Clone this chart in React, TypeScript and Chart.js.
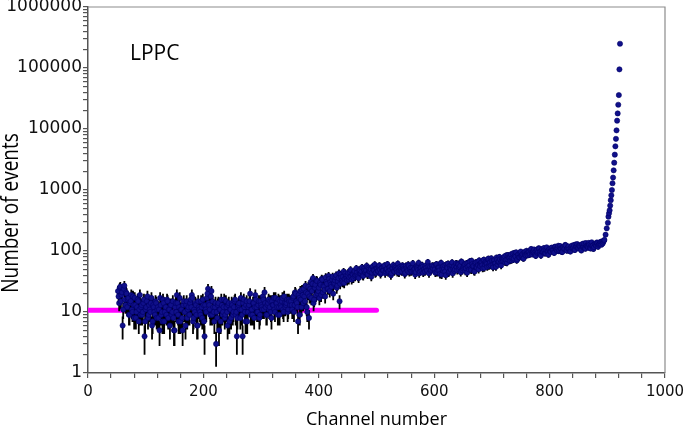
import React, { useEffect, useRef } from "react";
import { Chart, registerables } from "chart.js";

Chart.register(...registerables);

// ---------- data ----------
const xTickLabels = [0, 200, 400, 600, 800, 1000];
const yTickLabels = [1, 10, 100, 1000, 10000, 100000, 1000000];

// flat low region, even channels 52..350
const flatEvenStart = 52;
const flatEvenCounts = [
  22, 14, 26, 19, 6, 24, 16, 21, 12, 17, 9, 15, 11, 18, 8, 13, 10, 16, 7, 19,
  12, 9, 14, 4, 11, 15, 8, 13, 10, 17, 7, 12, 9, 14, 11, 8, 5, 13, 10, 16,
  7, 12, 9, 15, 11, 6, 13, 10, 8, 5, 14, 19, 9, 12, 7, 11, 5, 15, 10, 13,
  8, 12, 9, 16, 19, 7, 11, 14, 9, 6, 12, 10, 15, 8, 13, 4, 11, 17, 24, 13,
  9, 22, 15, 10, 12, 3, 8, 14, 11, 7, 13, 10, 16, 9, 12, 6, 14, 11, 8, 13,
  10, 15, 9, 4, 12, 14, 8, 11, 4, 16, 10, 13, 7, 12, 15, 9, 11, 14, 8, 19,
  12, 10, 15, 9, 13, 11, 16, 21, 12, 9, 14, 11, 15, 8, 13, 17, 10, 14, 12, 16,
  9, 13, 15, 11, 18, 12, 14, 10, 16, 13,
];
// flat low region, odd channels 53..349
const flatOddStart = 53;
const flatOddCounts = [
  18, 25, 15, 21, 11, 27, 13, 20, 16, 9, 14, 19, 10, 13, 17, 8, 12, 15, 11, 9,
  13, 10, 16, 7, 12, 18, 9, 11, 14, 6, 13, 10, 15, 8, 12, 11, 17, 9, 7, 14,
  10, 12, 16, 8, 11, 13, 9, 15, 5, 12, 10, 14, 7, 17, 11, 8, 13, 10, 6, 15,
  11, 9, 14, 12, 17, 8, 10, 13, 6, 15, 11, 9, 12, 16, 7, 13, 10, 20, 14, 11,
  18, 9, 12, 7, 14, 10, 13, 5, 11, 16, 9, 12, 8, 15, 10, 13, 7, 11, 14, 9,
  12, 16, 10, 8, 13, 11, 17, 9, 14, 12, 7, 15, 10, 13, 20, 11, 9, 14, 12, 16,
  10, 13, 8, 15, 12, 18, 11, 14, 9, 13, 16, 12, 10, 15, 13, 11, 17, 14, 9, 12,
  15, 12, 17, 10, 14, 13, 16, 11, 15,
];

// rising region, even channels 352..598
const riseEvenStart = 352;
const riseEvenCounts = [
  15, 11, 18, 13, 20, 14, 7, 17, 22, 12, 19, 24, 15, 21, 10, 26, 18, 31, 22, 36,
  16, 28, 33, 20, 25, 30, 19, 34, 27, 23, 37, 29, 24, 35, 31, 26, 38, 29, 33, 40,
  27, 36, 15, 41, 33, 38, 30, 43, 36, 40, 34, 45, 38, 42, 36, 47, 40, 44, 38, 49,
  42, 46, 40, 51, 44, 48, 42, 53, 46, 50, 44, 56, 48, 43, 52, 47, 55, 49, 44, 53,
  48, 58, 46, 51, 45, 54, 49, 43, 52, 47, 56, 50, 45, 53, 48, 51, 46, 55, 49, 44,
  52, 47, 57, 50, 46, 53, 48, 51, 45, 54, 49, 43, 52, 47, 55, 50, 46, 53, 48, 56,
  50, 47, 54, 51,
];
// rising region, odd channels 353..597
const riseOddStart = 353;
const riseOddCounts = [
  13, 17, 10, 21, 15, 12, 19, 9, 16, 23, 14, 18, 27, 12, 20, 8, 24, 17, 29, 14,
  25, 19, 32, 22, 17, 28, 35, 21, 26, 18, 31, 24, 39, 22, 28, 34, 20, 30, 37, 25,
  32, 43, 29, 37, 31, 46, 35, 39, 33, 44, 37, 49, 34, 41, 45, 38, 52, 40, 36, 47,
  43, 54, 39, 48, 45, 57, 41, 50, 46, 38, 55, 49, 60, 44, 51, 47, 58, 42, 53, 48,
  56, 43, 50, 61, 47, 54, 40, 52, 59, 46, 53, 49, 62, 44, 55, 48, 58, 51, 42, 57,
  49, 60, 45, 53, 47, 63, 50, 41, 56, 52, 64, 46, 54, 59, 44, 51, 57, 48, 66, 43,
  55, 49, 58,
];

// slowly increasing region, even channels 600..888
const slopeEvenStart = 600;
const slopeEvenCounts = [
  57, 44, 61, 49, 53, 42, 64, 51, 47, 58, 40, 55, 62, 46, 52, 59, 43, 56, 50, 63,
  48, 60, 54, 45, 66, 52, 58, 47, 63, 55, 50, 68, 49, 61, 57, 46, 65, 53, 59, 70,
  56, 66, 52, 72, 60, 64, 55, 75, 62, 58, 69, 54, 71, 63, 78, 60, 67, 73, 58, 76,
  68, 82, 71, 64, 86, 77, 80, 70, 91, 75, 84, 95, 73, 88, 79, 98, 83, 76, 93, 87,
  101, 85, 96, 90, 108, 88, 99, 94, 83, 105, 97, 110, 89, 102, 95, 112, 91, 104, 99, 87,
  109, 97, 114, 102, 93, 118, 105, 111, 99, 121, 106, 96, 116, 108, 124, 101, 113, 107, 98, 119,
  110, 125, 104, 117, 130, 112, 121, 106, 127, 115, 133, 109, 122, 118, 136, 113, 126, 120, 108, 131,
  124, 138, 117, 129, 141,
];
// slowly increasing region, odd channels 601..887
const slopeOddStart = 601;
const slopeOddCounts = [
  50, 59, 45, 54, 48, 62, 41, 56, 52, 46, 60, 53, 44, 57, 49, 65, 51, 47, 58, 54,
  62, 50, 57, 67, 48, 55, 61, 52, 44, 64, 58, 51, 69, 56, 47, 62, 54, 66, 50, 60,
  64, 58, 70, 53, 67, 61, 73, 57, 65, 76, 59, 68, 62, 55, 72, 66, 80, 63, 69, 74,
  77, 65, 85, 73, 79, 69, 88, 76, 72, 93, 81, 70, 86, 78, 94, 82, 89, 75, 97, 84,
  90, 98, 86, 103, 92, 95, 106, 87, 100, 93, 111, 96, 84, 107, 98, 103, 92, 115, 100, 105,
  98, 112, 104, 95, 117, 108, 101, 122, 103, 110, 97, 115, 109, 126, 104, 112, 119, 100, 114, 123,
  114, 105, 128, 119, 111, 124, 116, 102, 131, 118, 112, 135, 120, 114, 127, 110, 139, 123, 116, 129,
  121, 134, 126, 132,
];

// edge / peak region
const edgeChannels = [
  889, 890, 891, 892, 893, 894, 895, 897, 899, 901, 902, 903, 904, 905, 906, 907,
  908, 909, 910, 911, 912, 913, 914, 915, 916, 917, 918, 919, 920, 921, 922,
];
const edgeCounts = [
  138, 127, 144, 133, 141, 148, 152, 185, 235, 290, 365, 415, 465, 555, 680, 820,
  1000, 1290, 1600, 2100, 2800, 3800, 5200, 6900, 9500, 13700, 18000, 25000, 36000, 95000,
  250000,
];

// magenta reference level
const thresholdChannels = [0, 500];
const thresholdLevel = 10.7;

type Pt = { x: number; y: number };

const fromRun = (start: number, counts: number[]): Pt[] =>
  counts.map((c, i) => ({ x: start + 2 * i, y: c }));

const points: Pt[] = [
  ...fromRun(flatEvenStart, flatEvenCounts),
  ...fromRun(flatOddStart, flatOddCounts),
  ...fromRun(riseEvenStart, riseEvenCounts),
  ...fromRun(riseOddStart, riseOddCounts),
  ...fromRun(slopeEvenStart, slopeEvenCounts),
  ...fromRun(slopeOddStart, slopeOddCounts),
  ...edgeCounts.map((c, i) => ({ x: edgeChannels[i], y: c })),
].sort((a, b) => a.x - b.x);

const yTickValues: number[] = [];
yTickLabels.forEach((d, i) => {
  if (i === yTickLabels.length - 1) {
    yTickValues.push(d);
  } else {
    for (let m = 1; m <= 9; m++) yTickValues.push(d * m);
  }
});

const W = 685;
const H = 427;

const errorBarPlugin = {
  id: "errorBars",
  beforeDatasetDraw(chart: any, args: any) {
    if (args.index !== 1) return;
    const { ctx, chartArea, scales } = chart;
    const xs = scales.x;
    const ys = scales.y;
    const data = chart.data.datasets[1].data as Pt[];
    ctx.save();
    ctx.beginPath();
    ctx.rect(chartArea.left, chartArea.top, chartArea.width, chartArea.height);
    ctx.clip();
    ctx.strokeStyle = "#000000";
    ctx.lineWidth = 1.8;
    ctx.beginPath();
    for (const p of data) {
      const e = Math.sqrt(p.y);
      const px = xs.getPixelForValue(p.x);
      const lo = Math.max(p.y - e, 0.3);
      ctx.moveTo(px, ys.getPixelForValue(p.y + e));
      ctx.lineTo(px, ys.getPixelForValue(lo));
    }
    ctx.stroke();
    ctx.restore();
  },
};

const decorPlugin = {
  id: "decor",
  afterDraw(chart: any) {
    const { ctx, chartArea } = chart;
    ctx.save();
    ctx.strokeStyle = "#8c8c8c";
    ctx.lineWidth = 1.2;
    ctx.beginPath();
    ctx.moveTo(chartArea.left, chartArea.top);
    ctx.lineTo(chartArea.right, chartArea.top);
    ctx.lineTo(chartArea.right, chartArea.bottom);
    ctx.stroke();
    ctx.fillStyle = "#000";
    ctx.font = '21px "Open Sans"';
    ctx.textAlign = "left";
    ctx.textBaseline = "alphabetic";
    ctx.fillText("LPPC", chartArea.left + 42, chartArea.top + 53);
    ctx.font = '18px "Open Sans"';
    ctx.textAlign = "center";
    ctx.fillText("Channel number", (chartArea.left + chartArea.right) / 2, 425);
    ctx.translate(12, 213);
    ctx.rotate(-Math.PI / 2);
    ctx.scale(1, 1.2);
    ctx.font = '19px "Open Sans"';
    ctx.textBaseline = "middle";
    ctx.fillText("Number of events", 0, 0);
    ctx.restore();
  },
};

export default function App() {
  const ref = useRef<HTMLCanvasElement>(null);
  useEffect(() => {
    document.body.style.margin = "0";
    const canvas = ref.current!;
    const chart = new Chart(canvas, {
      type: "scatter",
      data: {
        datasets: [
          {
            type: "line",
            data: thresholdChannels.map((c) => ({ x: c, y: thresholdLevel })),
            borderColor: "#ff00ff",
            borderWidth: 5,
            borderCapStyle: "round",
            pointRadius: 0,
            order: 2,
          } as any,
          {
            data: points,
            backgroundColor: "#10108a",
            borderColor: "#000066",
            borderWidth: 0.6,
            pointRadius: 2.6,
            order: 1,
          },
        ],
      },
      options: {
        animation: false,
        responsive: false,
        devicePixelRatio: 1,
        layout: { padding: { left: 0, top: 7, right: 20, bottom: 0 } },
        plugins: { legend: { display: false }, tooltip: { enabled: false } },
        scales: {
          x: {
            type: "linear",
            min: 0,
            max: 1000,
            position: "bottom",
            border: { color: "#555", width: 1.5 },
            grid: { drawOnChartArea: false, drawTicks: true, tickLength: 5, color: "#555", lineWidth: 1.2 },
            ticks: {
              stepSize: 40,
              autoSkip: false,
              maxRotation: 0,
              padding: 5,
              color: "#111",
              font: { family: "DejaVu Sans", size: 15 },
              callback: (v: any) => (xTickLabels.includes(Number(v)) ? String(v) : ""),
            },
            afterFit: (s: any) => {
              s.height = H - 373;
              s.paddingLeft = 0;
              s.paddingRight = 0;
            },
          },
          y: {
            type: "logarithmic",
            min: 1,
            max: 1000000,
            position: "left",
            border: { color: "#555", width: 1.5 },
            grid: { drawOnChartArea: false, drawTicks: true, tickLength: 5, color: "#555", lineWidth: 1.2 },
            ticks: {
              autoSkip: false,
              padding: 1,
              color: "#111",
              font: { family: "DejaVu Sans", size: 17 },
              callback: (v: any) => (yTickLabels.includes(Number(v)) ? String(v) : ""),
            },
            afterBuildTicks: (s: any) => {
              s.ticks = yTickValues.map((v) => ({ value: v }));
            },
            afterFit: (s: any) => {
              s.width = 88;
              s.paddingTop = 0;
              s.paddingBottom = 0;
            },
          },
        },
      },
      plugins: [errorBarPlugin, decorPlugin],
    });
    return () => chart.destroy();
  }, []);
  return (
    <div style={{ width: W, height: H, position: "relative" }}>
      <canvas ref={ref} width={W} height={H} style={{ display: "block" }} />
    </div>
  );
}
